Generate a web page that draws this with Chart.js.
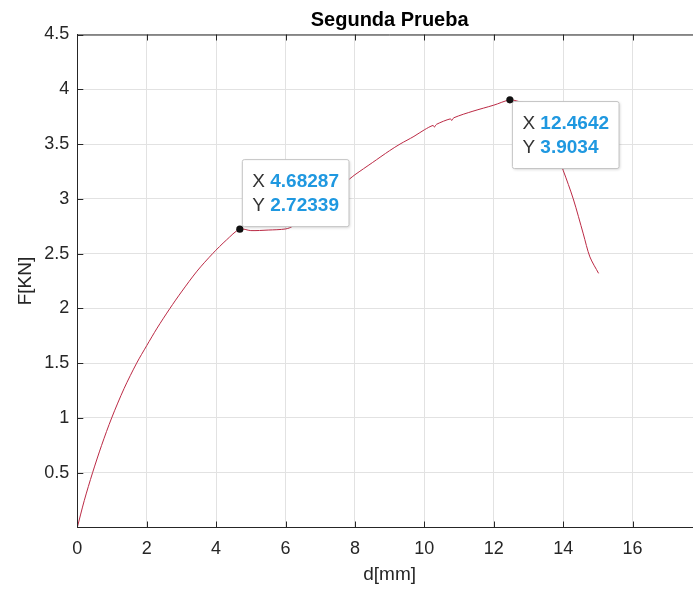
<!DOCTYPE html>
<html>
<head>
<meta charset="utf-8">
<script src="https://cdn.jsdelivr.net/npm/chart.js@4/dist/chart.umd.min.js"></script>
<style>
  html, body { margin: 0; padding: 0; background: #fff; overflow: hidden; }
</style>
</head>
<body>
<canvas id="pruebaChart" width="720" height="590"></canvas>
<script>
// curve (d in mm, F in kN)
const dispMm = [0, 0.2, 0.44, 0.7, 0.99, 1.35, 1.71, 2.0, 2.3, 2.67, 3.0, 3.45, 3.9, 4.3, 4.68287,
  5.0, 5.5, 6.0, 6.2, 6.5, 7.0, 7.5, 7.84, 8.0, 8.5, 9.0, 9.3, 9.7, 10.0, 10.25, 10.29, 10.35,
  10.75, 10.79, 10.85, 11.4, 12.0, 12.4642, 12.7, 13.0, 13.4, 13.7, 14.0, 14.29, 14.58, 14.77, 15.02];
const forceKN = [0, 0.245, 0.5, 0.75, 1.0, 1.27, 1.5, 1.66, 1.82, 2.0, 2.15, 2.34, 2.5, 2.625, 2.72339,
  2.71, 2.715, 2.725, 2.75, 2.85, 2.99, 3.1, 3.18, 3.22, 3.33, 3.44, 3.5, 3.57, 3.63, 3.67, 3.655, 3.68,
  3.73, 3.715, 3.74, 3.8, 3.855, 3.9034, 3.89, 3.86, 3.7, 3.5, 3.26, 3.0, 2.68, 2.47, 2.32];

// data tips shown on the plot
const tipX = [4.68287, 12.4642];
const tipY = [2.72339, 3.9034];

const xTicks = [0, 2, 4, 6, 8, 10, 12, 14, 16];
const yTicks = [0.5, 1, 1.5, 2, 2.5, 3, 3.5, 4, 4.5];

const FONT = "'Liberation Sans', Arial, Helvetica, sans-serif";
const AXIS_COLOR = "#262626";

// MATLAB style: top box edge and inward tick marks
const boxTicks = {
  id: "boxTicks",
  afterDraw(chart) {
    const { ctx, chartArea: a, scales } = chart;
    const len = 6;
    ctx.save();
    ctx.strokeStyle = AXIS_COLOR;
    ctx.lineWidth = 1;
    ctx.beginPath();
    ctx.moveTo(a.left, a.top + 0.5);
    ctx.lineTo(a.right, a.top + 0.5);
    xTicks.forEach(v => {
      const x = Math.round(scales.x.getPixelForValue(v)) + 0.5;
      ctx.moveTo(x, a.bottom);
      ctx.lineTo(x, a.bottom - len);
      ctx.moveTo(x, a.top);
      ctx.lineTo(x, a.top + len);
    });
    yTicks.forEach(v => {
      const y = Math.round(scales.y.getPixelForValue(v)) + 0.5;
      ctx.moveTo(a.left, y);
      ctx.lineTo(a.left + len, y);
    });
    ctx.stroke();
    ctx.restore();
  }
};

const dataTips = {
  id: "dataTips",
  afterDraw(chart) {
    const { ctx, scales } = chart;
    ctx.save();
    tipX.forEach((xv, i) => {
      const px = scales.x.getPixelForValue(xv);
      const py = scales.y.getPixelForValue(tipY[i]);
      const rowX = "X ", rowY = "Y ";
      const valX = String(xv), valY = String(tipY[i]);

      ctx.font = "19px " + FONT;
      const wLab = Math.max(ctx.measureText(rowX).width, ctx.measureText(rowY).width);
      ctx.font = "bold 19px " + FONT;
      const wVal = Math.max(ctx.measureText(valX).width, ctx.measureText(valY).width);
      const w = wLab + wVal + 20;
      const h = 67;
      const left = px + 2.5;
      const top = i === 0 ? py - 69.5 : py + 1.7;

      ctx.shadowColor = "rgba(0,0,0,0.18)";
      ctx.shadowBlur = 3;
      ctx.shadowOffsetX = 1;
      ctx.shadowOffsetY = 1;
      ctx.fillStyle = "#ffffff";
      ctx.beginPath();
      ctx.roundRect(left, top, w, h, 2);
      ctx.fill();
      ctx.shadowColor = "transparent";
      ctx.strokeStyle = "#c4c4c4";
      ctx.lineWidth = 1;
      ctx.stroke();

      ctx.textBaseline = "middle";
      ctx.textAlign = "left";
      [[rowX, valX, 22.5], [rowY, valY, 46]].forEach(([lab, val, dy]) => {
        ctx.font = "19px " + FONT;
        ctx.fillStyle = "#333333";
        ctx.fillText(lab, left + 10, top + dy);
        ctx.font = "bold 19px " + FONT;
        ctx.fillStyle = "#1f98e0";
        ctx.fillText(val, left + 10 + wLab, top + dy);
      });

      ctx.fillStyle = "#111111";
      ctx.beginPath();
      ctx.arc(px, py, 3.6, 0, Math.PI * 2);
      ctx.fill();
    });
    ctx.restore();
  }
};

const points = dispMm.map((d, i) => ({ x: d, y: forceKN[i] }));

new Chart(document.getElementById("pruebaChart"), {
  type: "line",
  data: {
    datasets: [{
      data: points,
      borderColor: "#bb2a45",
      borderWidth: 1,
      pointRadius: 0,
      tension: 0.3
    }]
  },
  options: {
    responsive: false,
    animation: false,
    layout: { padding: { left: 0, top: 0, right: 18, bottom: 0 } },
    plugins: {
      legend: { display: false },
      tooltip: { enabled: false },
      title: {
        display: true,
        text: "Segunda Prueba",
        fullSize: false,
        color: "#000000",
        font: { family: FONT, size: 20, weight: "bold", lineHeight: 1.2 },
        padding: { top: 8, bottom: 2.5 }
      }
    },
    scales: {
      x: {
        type: "linear",
        min: 0,
        max: 18,
        afterFit(scale) { scale.height = 62.5; },
        afterBuildTicks(scale) { scale.ticks = xTicks.concat([18]).map(v => ({ value: v })); },
        grid: { color: "#e2e2e2", drawTicks: false },
        border: { color: AXIS_COLOR, width: 1 },
        ticks: {
          padding: 11,
          color: AXIS_COLOR,
          font: { family: FONT, size: 18 },
          maxRotation: 0,
          callback: v => (xTicks.includes(v) ? String(v) : "")
        },
        title: {
          display: true,
          text: "d[mm]",
          color: AXIS_COLOR,
          font: { family: FONT, size: 19, lineHeight: 1.2 },
          padding: { top: 0, bottom: 4 }
        }
      },
      y: {
        min: 0,
        max: 4.5,
        afterFit(scale) { scale.width = 77.3; },
        afterBuildTicks(scale) { scale.ticks = [0].concat(yTicks).map(v => ({ value: v })); },
        grid: { color: "#e2e2e2", drawTicks: false },
        border: { color: AXIS_COLOR, width: 1 },
        ticks: {
          padding: 8,
          color: AXIS_COLOR,
          font: { family: FONT, size: 18 },
          callback: v => (yTicks.includes(v) ? String(v) : "")
        },
        title: {
          display: true,
          text: "F[KN]",
          color: AXIS_COLOR,
          font: { family: FONT, size: 19, lineHeight: 1.2 },
          padding: { top: 14, bottom: 0 }
        }
      }
    }
  },
  plugins: [boxTicks, dataTips]
});
</script>
</body>
</html>
